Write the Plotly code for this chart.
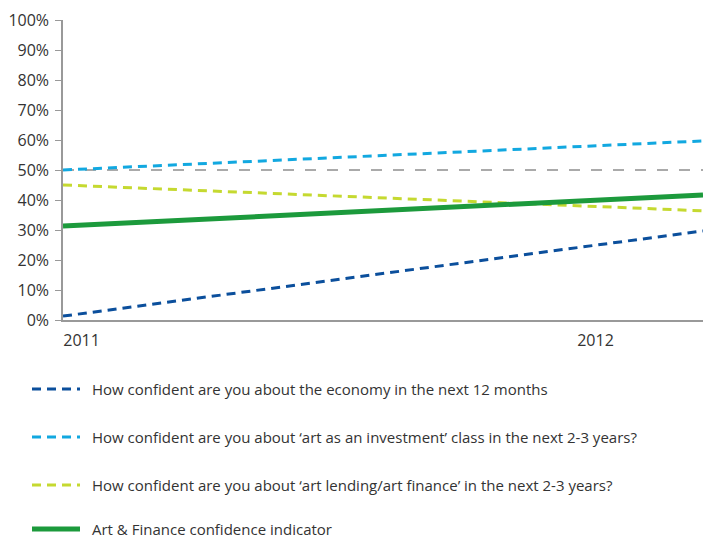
import plotly.graph_objects as go

years = ["2011", "2012"]
economy = [1.3, 29.7]
art_investment = [50.0, 59.7]
art_lending = [45.0, 36.4]
confidence = [31.3, 41.7]
reference_line = [50, 50]
y_ticks = [0, 10, 20, 30, 40, 50, 60, 70, 80, 90, 100]
series_names = [
    "How confident are you about the economy in the next 12 months",
    "How confident are you about \u2018art as an investment\u2019 class in the next 2-3 years?",
    "How confident are you about \u2018art lending/art finance\u2019 in the next 2-3 years?",
    "Art & Finance confidence indicator",
]
colors = ["#0B4F9C", "#12A8E0", "#C5D930", "#1C9A3C"]
dashes = ["9px,6px", "9px,6px", "9px,6px", "solid"]
widths = [3, 3, 3, 5]

W, H = 703, 540
L, R, T, B = 63, 0, 20, 220
PW, PH = W - L - R, H - T - B

xs = [0, 1]
fig = go.Figure()
fig.add_trace(go.Scatter(x=xs, y=reference_line, mode="lines",
                         line=dict(color="#AAAAAA", width=2, dash="11px,11px"),
                         showlegend=False, hoverinfo="skip"))
for vals, c, d, w, n in zip([economy, art_investment, art_lending, confidence],
                            colors, dashes, widths, series_names):
    fig.add_trace(go.Scatter(x=xs, y=vals, mode="lines", name=n,
                             line=dict(color=c, width=w, dash=d),
                             showlegend=False))

def px_x(p):
    return (p - L) / PW

def px_y(p):
    return (T + PH - p) / PH

shapes = []
annotations = []
rows = [389, 437, 485, 529]
for n, c, d, w, ry in zip(series_names, colors, dashes, widths, rows):
    shapes.append(dict(type="line", xref="paper", yref="paper",
                       x0=px_x(32), x1=px_x(80), y0=px_y(ry), y1=px_y(ry),
                       line=dict(color=c, width=w, dash=d)))
    annotations.append(dict(text=n, xref="paper", yref="paper",
                            x=px_x(91), y=px_y(ry), xanchor="left", yanchor="middle",
                            showarrow=False, borderpad=0,
                            font=dict(family="Open Sans", size=15, color="#333333")))

fig.update_layout(
    width=W, height=H,
    margin=dict(l=L, r=R, t=T, b=B),
    plot_bgcolor="white", paper_bgcolor="white",
    shapes=shapes, annotations=annotations,
    font=dict(family="Open Sans", size=16, color="#333333"),
    xaxis=dict(range=[0, 1], showgrid=False, zeroline=False,
               showline=True, linecolor="#999999", linewidth=1.5,
               tickvals=[0.029, 0.832], ticktext=years, ticks="",
               ticklabelstandoff=5,
               tickfont=dict(size=16, color="#333333")),
    yaxis=dict(range=[0, 100], showgrid=False, zeroline=False,
               showline=True, linecolor="#999999", linewidth=1.5,
               tickvals=y_ticks, ticktext=[f"{v}%" for v in y_ticks],
               ticks="outside", ticklen=6, tickcolor="#999999",
               ticklabelstandoff=3,
               tickfont=dict(size=16, color="#333333")),
)

fig.write_html("out.html", config={"displayModeBar": False},
               post_script="document.body.style.margin='0';document.body.style.overflow='hidden';")
